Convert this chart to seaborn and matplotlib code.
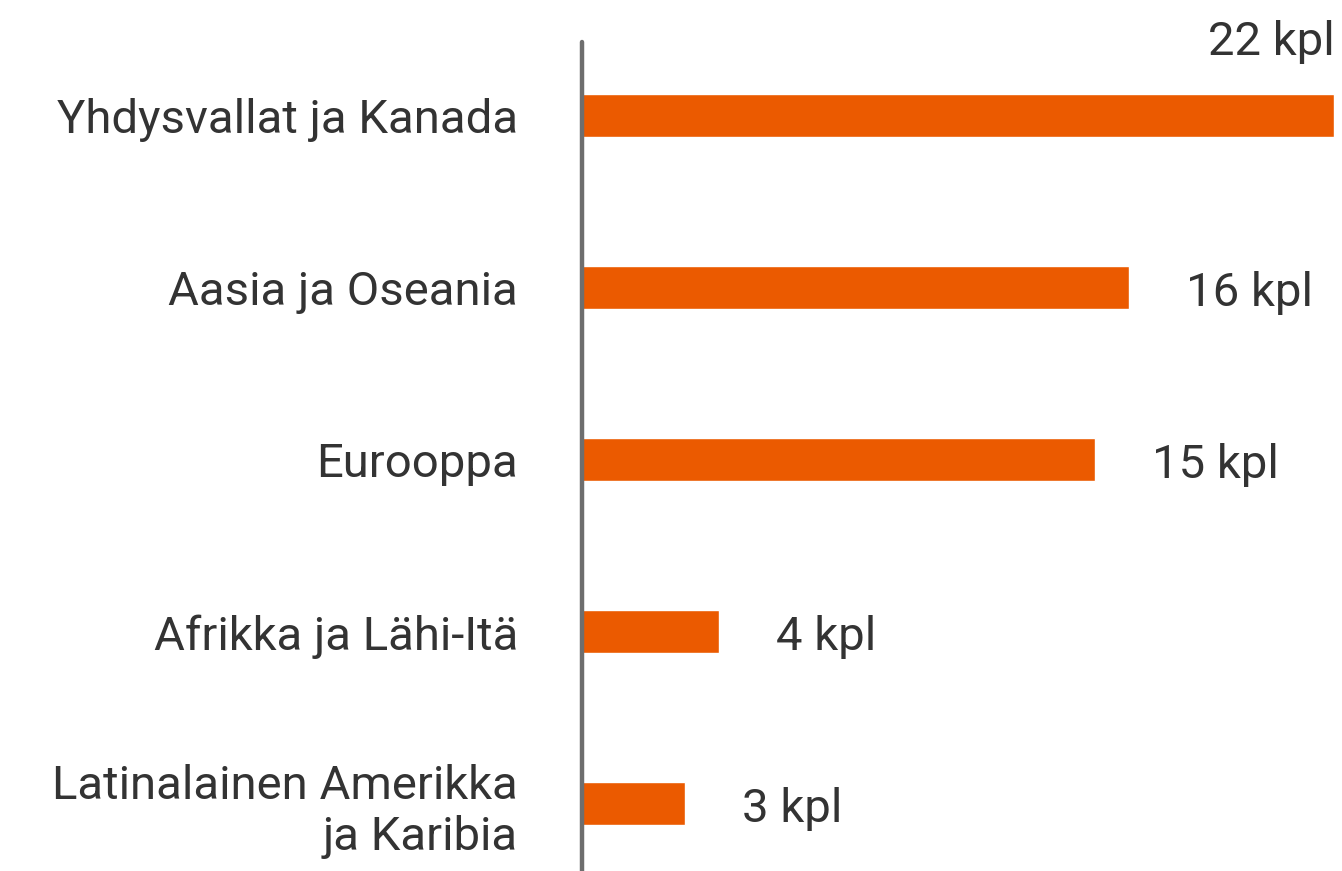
import pandas as pd
import seaborn as sns
import matplotlib.pyplot as plt

# Chart data
regions = ["Yhdysvallat ja Kanada", "Aasia ja Oseania", "Eurooppa",
           "Afrikka ja Lähi-Itä", "Latinalainen Amerikka\nja Karibia"]
counts = [22, 16, 15, 4, 3]
value_labels = [f"{c} kpl" for c in counts]

df = pd.DataFrame({"Alue": regions, "Määrä": counts})

sns.set_theme(style="white")
plt.rcParams['font.family'] = ['Roboto', 'DejaVu Sans']

fig = plt.figure(figsize=(13.42, 8.71), dpi=100)
ax = fig.add_axes([582 / 1342, 0, 1 - 582 / 1342, 1 - 42 / 871])

sns.barplot(data=df, y="Alue", x="Määrä", orient="h", color="#EB5A00",
            width=0.25, saturation=1, ax=ax)

ax.set_xlim(0, 22.22)
ax.set_ylim(4.39, -0.43)
ax.set_xlabel("")
ax.set_ylabel("")
ax.set_xticks([])

for s in ["top", "right", "bottom"]:
    ax.spines[s].set_visible(False)
ax.spines["left"].set_color("#6e6e6e")
ax.spines["left"].set_linewidth(3.2)
ax.spines["left"].set_capstyle("round")

ax.tick_params(axis="y", length=0, pad=46, labelsize=34, labelcolor="#333333")
for lbl in ax.get_yticklabels():
    lbl.set_linespacing(1.2)
    lbl.set_multialignment("right")

# value labels
for i, (v, t) in enumerate(zip(counts, value_labels)):
    if v >= 20:
        ax.text(v, i - 0.43, t, ha="right", va="center", fontsize=34,
                color="#333333", clip_on=False)
    else:
        ax.text(v + 1.67, i + 0.03, t, ha="left", va="center", fontsize=34,
                color="#333333")

plt.savefig("out.png", dpi=100)
